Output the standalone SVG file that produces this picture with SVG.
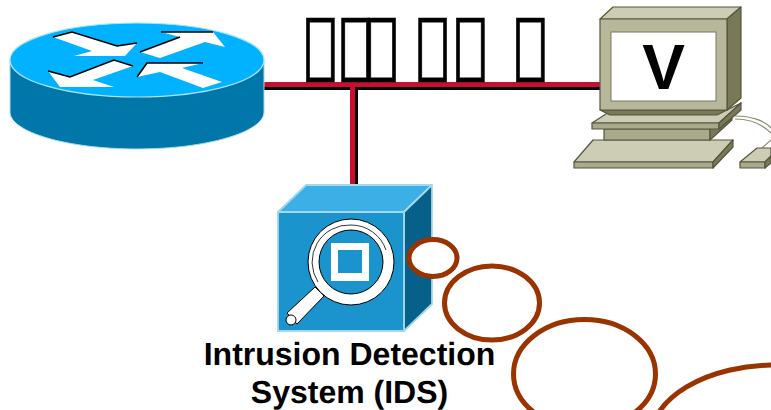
<svg xmlns="http://www.w3.org/2000/svg" width="771" height="410" viewBox="0 0 771 410">
<style>
.lbl{font-family:"Liberation Sans",Arial,sans-serif;font-weight:bold;fill:#000;text-rendering:geometricPrecision}
.tofu{font-family:"DejaVu Sans",sans-serif;font-weight:bold;fill:#000;stroke:#000;stroke-width:.8}
.pc{stroke:#55563c;stroke-width:1.2;stroke-linejoin:round}
.l{fill:#cdcdb5}.m{fill:#a9a98c}.d{fill:#797958}
.cloud{fill:#fff;stroke:#993300;stroke-width:5}
.arrow{fill:#fff;stroke:none}
.edge{fill:none;stroke:#000;stroke-width:1.6}
</style>
<rect width="771" height="410" fill="#fff"/>
<g id="connectors">
<path d="M264 88.500H600M356.500 87V184" fill="none" stroke="#000" stroke-width="3"/>
<path d="M264 84.500H600M352.500 85V184" fill="none" stroke="#c8102e" stroke-width="5"/>
</g>
<g id="router">
<path d="M10 60V112C10 132 67 149 137 149S264 132 264 112V60Z" fill="#0077a8" stroke="#a8dcf0" stroke-width="1"/>
<ellipse cx="137" cy="60" rx="127" ry="37" fill="#00b2ff" stroke="#a8e4fa" stroke-width="1.200"/>
<polygon class="arrow" points="53,37 72,32 117,46 137,43 125,56 74,56 92,51"/>
<polyline class="edge" points="53,37 72,32 117,46 137,43"/>
<polygon class="arrow" points="140,52 180,37 161,32 213,32 225,47 205,42 160,58"/>
<polyline class="edge" points="140,52 180,37"/><polyline class="edge" points="161,32 213,32"/>
<polygon class="arrow" points="48,71 70,77 114,60 133,66 93,80 114,87 60,87"/>
<polyline class="edge" points="48,71 70,77 114,60 133,66"/>
<polygon class="arrow" points="137,77 147,63 203,63 182,68 222,82 203,88 160,72"/>
<polyline class="edge" points="137,77 147,63 203,63"/>
</g>
<g id="tofu-label">
<text class="tofu" transform="scale(.77 1)" font-size="72" x="394.200 440 473.800 540 589 666.900" y="69.500">&#xE000;&#xE000;&#xE000;&#xE000;&#xE000;&#xE000;</text>
</g>
<g id="workstation">
<path d="M735 116C752 116 765 121 771 128M735 119C750 119 762 124 771 133M771 140L762 148" fill="none" stroke="#8f8f72" stroke-width="1.200"/>
<polygon class="pc l" points="593,140 574,162 713,162 733,140"/>
<polygon class="pc m" points="574,162 713,162 713,168 574,168"/>
<polygon class="pc d" points="713,162 733,140 733,147 713,168"/>
<polygon class="pc m" points="604,129 710,129 710,140 604,140"/>
<polygon class="pc d" points="710,129 732,112 732,120 710,140"/>
<polygon class="pc l" points="609,112 592,123 719,123 741,103 727,110"/>
<polygon class="pc m" points="592,123 719,123 719,129 592,129"/>
<polygon class="pc d" points="719,123 741,103 741,110 719,129"/>
<polygon class="pc d" points="600,110 610,115 717,115 727,110"/>
<polygon class="pc l" points="600,19 613,7 741,7 727,19"/>
<polygon class="pc d" points="727,19 741,7 741,98 727,110"/>
<rect class="pc" x="600" y="19" width="127" height="91" fill="#b7b79c"/>
<rect x="611" y="32" width="105" height="69" fill="#fff" stroke="#797958" stroke-width="1"/>
<text class="lbl" font-size="64" x="663.500" y="89" text-anchor="middle">V</text>
<polygon class="pc l" points="757,148 740,162 765,162 771,156 771,148"/>
<polygon class="pc m" points="740,162 765,162 765,168 740,168"/>
<polygon class="pc d" points="765,162 771,156 771,163 765,168"/>
</g>
<g id="ids">
<g stroke="#a6d8ea" stroke-width="1.800" stroke-linejoin="round">
<polygon points="278,212 306,185 432,185 404,212" fill="#3cb0e6"/>
<polygon points="404,212 432,185 432,304 404,331" fill="#066089"/>
<rect x="278" y="212" width="126" height="119" fill="#1b93cc"/>
</g>
<path d="M315 287L324 296L297 324L287 313Z" fill="#fff" stroke="#000" stroke-width="1"/>
<circle cx="291" cy="320" r="5" fill="#fff" stroke="#000" stroke-width="1"/>
<circle cx="351" cy="262" r="43" fill="#fff" stroke="#000" stroke-width="1"/>
<circle cx="351" cy="262" r="32" fill="#1b93cc" stroke="#000" stroke-width="1"/>
<path d="M318 282A37 37 0 0 1 351 225A37 37 0 0 1 386 250" fill="none" stroke="#000" stroke-width=".8"/>
<rect x="331" y="243" width="38" height="38" fill="#fff"/>
<rect x="338" y="250" width="24" height="23" fill="#1b93cc"/>
<text class="lbl" font-size="32" text-anchor="middle"><tspan x="349.500" y="365">Intrusion Detection</tspan><tspan x="349.500" y="403">System (IDS)</tspan></text>
</g>
<g id="thought-bubbles">
<ellipse class="cloud" cx="433" cy="258" rx="24" ry="18.500"/>
<ellipse class="cloud" cx="492" cy="303" rx="47.500" ry="37"/>
<ellipse class="cloud" cx="584.500" cy="374" rx="71" ry="54.500"/>
<ellipse class="cloud" cx="775" cy="440" rx="125" ry="75"/>
</g>
</svg>
